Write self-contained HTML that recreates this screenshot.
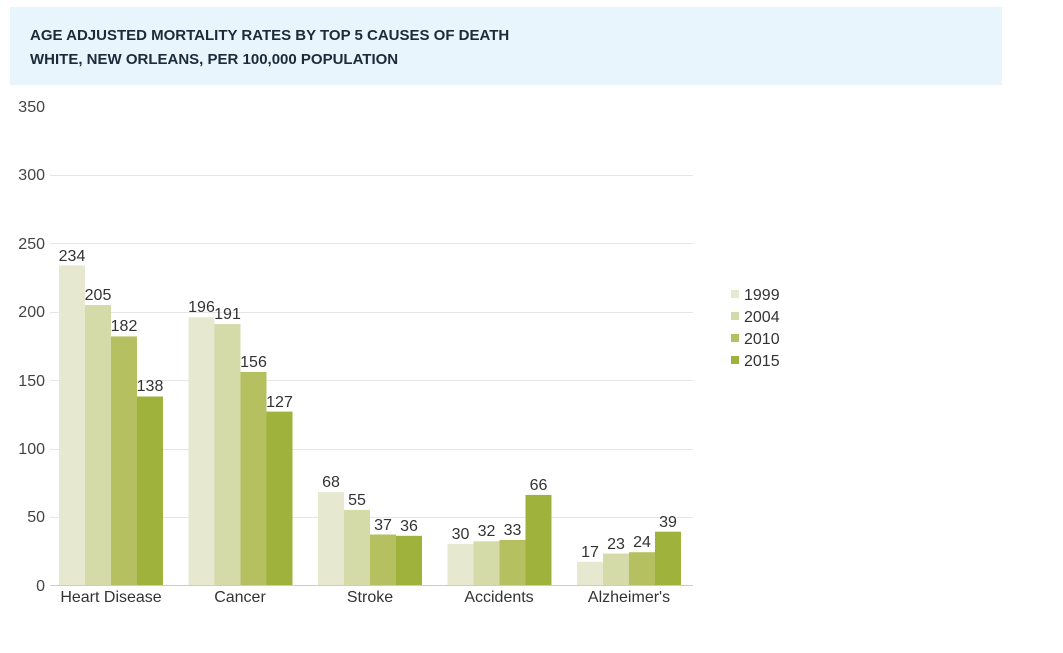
<!DOCTYPE html><html><head><style>body{margin:0;background:#fff;width:1063px;height:648px;overflow:hidden;font-family:"Liberation Sans",sans-serif}</style></head><body>
<svg width="1063" height="648" xmlns="http://www.w3.org/2000/svg" font-family="Liberation Sans, sans-serif">
<rect x="10" y="7" width="992" height="78" fill="#e8f5fc"/>
<text x="30" y="40" font-size="15" font-weight="bold" fill="#1c2b3a">AGE ADJUSTED MORTALITY RATES BY TOP 5 CAUSES OF DEATH</text>
<text x="30" y="64" font-size="15" font-weight="bold" fill="#1c2b3a">WHITE, NEW ORLEANS, PER 100,000 POPULATION</text>
<g stroke="#e6e6e6" stroke-width="1">
<line x1="50" x2="693" y1="175.5" y2="175.5"/><line x1="50" x2="693" y1="243.5" y2="243.5"/><line x1="50" x2="693" y1="312.5" y2="312.5"/><line x1="50" x2="693" y1="380.5" y2="380.5"/><line x1="50" x2="693" y1="449.5" y2="449.5"/><line x1="50" x2="693" y1="517.5" y2="517.5"/>
</g>
<g font-size="16" fill="#444" text-anchor="end">
<text x="45" y="112">350</text><text x="45" y="180">300</text><text x="45" y="249">250</text><text x="45" y="317">200</text><text x="45" y="386">150</text><text x="45" y="454">100</text><text x="45" y="522">50</text><text x="45" y="591">0</text>
</g>
<g>
<rect x="59" y="265.4" width="26" height="319.6" fill="#e6e8cf"/>
<rect x="85" y="305" width="26" height="280" fill="#d4dba8"/>
<rect x="111" y="336.4" width="26" height="248.6" fill="#b5c160"/>
<rect x="137" y="396.5" width="26" height="188.5" fill="#9fb23c"/>
<rect x="188.5" y="317.3" width="26" height="267.7" fill="#e6e8cf"/>
<rect x="214.5" y="324.1" width="26" height="260.9" fill="#d4dba8"/>
<rect x="240.5" y="371.9" width="26" height="213.1" fill="#b5c160"/>
<rect x="266.5" y="411.6" width="26" height="173.4" fill="#9fb23c"/>
<rect x="318" y="492.1" width="26" height="92.9" fill="#e6e8cf"/>
<rect x="344" y="509.9" width="26" height="75.1" fill="#d4dba8"/>
<rect x="370" y="534.5" width="26" height="50.5" fill="#b5c160"/>
<rect x="396" y="535.8" width="26" height="49.2" fill="#9fb23c"/>
<rect x="447.5" y="544" width="26" height="41" fill="#e6e8cf"/>
<rect x="473.5" y="541.3" width="26" height="43.7" fill="#d4dba8"/>
<rect x="499.5" y="539.9" width="26" height="45.1" fill="#b5c160"/>
<rect x="525.5" y="494.9" width="26" height="90.1" fill="#9fb23c"/>
<rect x="577" y="561.8" width="26" height="23.2" fill="#e6e8cf"/>
<rect x="603" y="553.6" width="26" height="31.4" fill="#d4dba8"/>
<rect x="629" y="552.2" width="26" height="32.8" fill="#b5c160"/>
<rect x="655" y="531.7" width="26" height="53.3" fill="#9fb23c"/>
</g>
<line x1="50" x2="693" y1="585.5" y2="585.5" stroke="#ccc"/>
<g font-size="16" fill="#333" text-anchor="middle">
<text x="72" y="261">234</text><text x="98" y="300">205</text><text x="124" y="331">182</text><text x="150" y="391">138</text>
<text x="201.5" y="312">196</text><text x="227.5" y="319">191</text><text x="253.5" y="367">156</text><text x="279.5" y="407">127</text>
<text x="331" y="487">68</text><text x="357" y="505">55</text><text x="383" y="530">37</text><text x="409" y="531">36</text>
<text x="460.5" y="539">30</text><text x="486.5" y="536">32</text><text x="512.5" y="535">33</text><text x="538.5" y="490">66</text>
<text x="590" y="557">17</text><text x="616" y="549">23</text><text x="642" y="547">24</text><text x="668" y="527">39</text>
</g>
<g font-size="16" fill="#333" text-anchor="middle">
<text x="111" y="602">Heart Disease</text><text x="240" y="602">Cancer</text><text x="370" y="602">Stroke</text><text x="499" y="602">Accidents</text><text x="629" y="602">Alzheimer's</text>
</g>
<g font-size="16" fill="#333">
<rect x="731" y="290" width="8" height="8" fill="#e6e8cf"/><text x="744" y="300">1999</text>
<rect x="731" y="312" width="8" height="8" fill="#d4dba8"/><text x="744" y="322">2004</text>
<rect x="731" y="334" width="8" height="8" fill="#b5c160"/><text x="744" y="344">2010</text>
<rect x="731" y="356" width="8" height="8" fill="#9fb23c"/><text x="744" y="366">2015</text>
</g>
</svg></body></html>
